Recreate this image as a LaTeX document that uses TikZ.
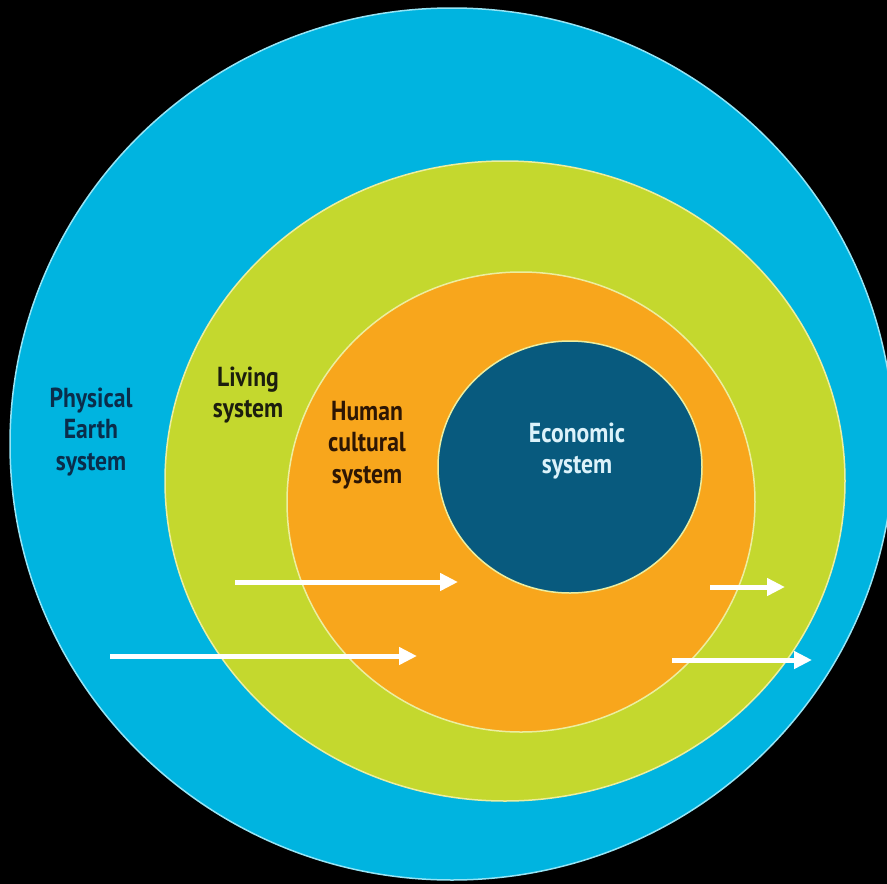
\documentclass[tikz,border=0pt]{standalone}
\usepackage{fontspec}
\setmainfont{PT Sans}[FakeStretch=0.86]
\usetikzlibrary{shapes.geometric,arrows.meta}
\definecolor{earthblue}{RGB}{0,180,224}
\definecolor{livegreen}{RGB}{196,216,46}
\definecolor{humanorange}{RGB}{248,166,28}
\definecolor{econblue}{RGB}{8,90,126}
\definecolor{ringline}{RGB}{236,238,160}
\definecolor{outerline}{RGB}{150,228,245}
\definecolor{earthtext}{RGB}{10,45,75}
\definecolor{livetext}{RGB}{28,30,14}
\definecolor{humantext}{RGB}{45,22,4}
\definecolor{econtext}{RGB}{220,242,250}
\tikzset{
  ring/.style={ellipse, inner sep=0pt, outer sep=0pt, line width=1.5pt},
  lbl/.style={align=center, inner sep=0pt, font=\bfseries\fontsize{27.5}{31.5}\selectfont},
  flow/.style={draw=white, line width=5pt, -{Triangle[length=18pt,width=17pt]}}
}
\begin{document}
\begin{tikzpicture}[x=1pt,y=-1pt]
\useasboundingbox (0,0) rectangle (887,884);
\fill[black] (0,0) rectangle (887,884);
\clip (0,0) rectangle (887,884);
\node[ring, fill=earthblue, draw=outerline, minimum width=884pt, minimum height=872pt] (earth) at (452,444) {};
\node[ring, fill=livegreen, draw=ringline, minimum width=680pt, minimum height=640pt] (living) at (505,481) {};
\node[ring, fill=humanorange, draw=ringline, minimum width=468pt, minimum height=460pt] (human) at (521,502) {};
\node[ring, fill=econblue, draw=ringline, minimum width=264pt, minimum height=252pt] (econ) at (570,467) {};
\node[lbl, text=earthtext] (tearth) at (91,432) {Physical\\Earth\\system};
\node[lbl, text=livetext] (tliving) at (248,395) {Living\\system};
\node[lbl, text=humantext] (thuman) at (367,445) {Human\\cultural\\system};
\node[lbl, text=econtext] (tecon) at (577,451) {Economic\\system};
\coordinate (a1s) at (235,582); \coordinate (a1e) at (458,582);
\coordinate (a2s) at (110,656); \coordinate (a2e) at (417,656);
\coordinate (a3s) at (710,587); \coordinate (a3e) at (785,587);
\coordinate (a4s) at (672,660); \coordinate (a4e) at (812,660);
\draw[flow] (a1s) -- (a1e);
\draw[flow] (a2s) -- (a2e);
\draw[flow] (a3s) -- (a3e);
\draw[flow] (a4s) -- (a4e);
\end{tikzpicture}
\end{document}
